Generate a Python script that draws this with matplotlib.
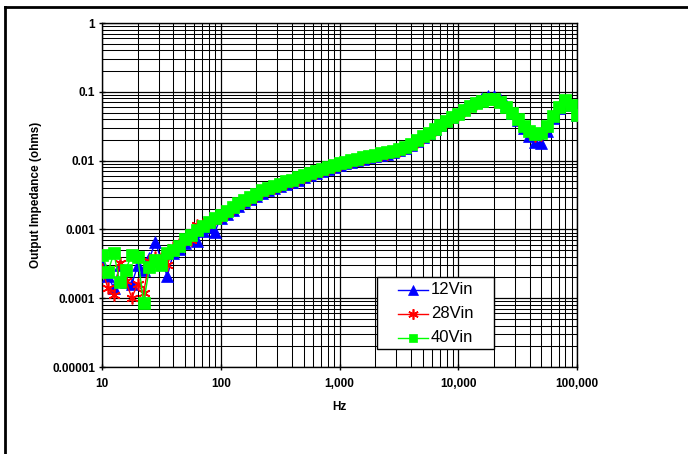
import matplotlib
matplotlib.use("Agg")
import matplotlib.pyplot as plt
from matplotlib.lines import Line2D
from matplotlib.patches import Rectangle
from matplotlib.ticker import LogLocator, FixedLocator, NullFormatter

plt.rcParams['font.family'] = ['Liberation Sans', 'DejaVu Sans']

# Frequency sweep (Hz)
freq = [10, 11.2, 12.6, 14.1, 15.8, 17.8, 20.0, 22.4, 25.1, 28.2, 31.6, 35.5, 39.8, 44.7, 50.1, 56.2, 63.1, 70.8, 79.4, 89.1,
        100, 112, 126, 141, 158, 178, 200, 224, 251, 282, 316, 355, 398, 447, 501, 562, 631, 708, 794, 891,
        1000, 1120, 1260, 1410, 1580, 1780, 2000, 2240, 2510, 2820, 3160, 3550, 3980, 4470, 5010, 5620, 6310, 7080, 7940, 8910,
        10000, 11200, 12600, 14100, 15800, 17800, 20000, 22400, 25100, 28200, 31600, 35500, 39800, 44700, 50100, 56200, 63100, 70800, 79400, 89100,
        100000]

z_12vin = [0.00032, 0.00021, 0.00014, 0.00030, 0.00017, 0.00016, 0.00030, 0.00026, 0.00038, 0.00066, 0.00035, 0.00021, 0.00045, 0.00052, 0.00063, 0.00075, 0.00068, 0.00095, 0.00110, 0.00092,
           0.00148, 0.0017, 0.00194, 0.0022, 0.0025, 0.00278, 0.0031, 0.0034, 0.00368, 0.0040, 0.0043, 0.0046, 0.0049, 0.0053, 0.0057, 0.0061, 0.0065, 0.0070, 0.0075, 0.0080,
           0.0086, 0.0091, 0.0096, 0.0101, 0.0106, 0.0111, 0.0116, 0.0121, 0.0126, 0.0132, 0.0141, 0.0153, 0.0170, 0.0192, 0.0220, 0.0252, 0.0288, 0.0330, 0.0377, 0.0430,
           0.0490, 0.0560, 0.0635, 0.0715, 0.0800, 0.0870, 0.0860, 0.0775, 0.0640, 0.0500, 0.0385, 0.0295, 0.0230, 0.0185, 0.0180, 0.0265, 0.0410, 0.0590, 0.0735, 0.0640,
           0.046]

z_28vin = [0.00027, 0.00014, 0.00011, 0.00032, 0.00018, 0.000102, 0.00016, 0.00012, 0.00035, 0.00040, 0.00038, 0.00030, 0.00055, 0.00062, 0.00070, 0.00070, 0.00115, 0.00120, 0.00125, 0.00140,
           0.00150, 0.00172, 0.00196, 0.00224, 0.00252, 0.0028, 0.0031, 0.00345, 0.0037, 0.0040, 0.0043, 0.00465, 0.0049, 0.0053, 0.0057, 0.0061, 0.0065, 0.0070, 0.0075, 0.0080,
           0.0086, 0.0091, 0.0096, 0.0101, 0.0106, 0.0111, 0.0116, 0.0121, 0.0126, 0.0132, 0.0140, 0.0151, 0.0167, 0.0187, 0.0213, 0.0243, 0.0277, 0.0316, 0.0360, 0.0410,
           0.0465, 0.0530, 0.0600, 0.0670, 0.0735, 0.0775, 0.0770, 0.0700, 0.0595, 0.0485, 0.0392, 0.0312, 0.0260, 0.0228, 0.0238, 0.0310, 0.0440, 0.0600, 0.0745, 0.0640,
           0.046]

z_40vin = [0.00043, 0.00024, 0.00045, 0.00017, 0.00026, 0.00042, 0.00040, 0.000085, 0.00028, 0.00036, 0.00030, 0.00045, 0.00050, 0.00058, 0.00072, 0.00083, 0.00097, 0.00112, 0.00128, 0.00145,
           0.0016, 0.00185, 0.0021, 0.0024, 0.0027, 0.0030, 0.0033, 0.0037, 0.0040, 0.0043, 0.0046, 0.0050, 0.0053, 0.0057, 0.0061, 0.0065, 0.0070, 0.0075, 0.0080, 0.0086,
           0.0092, 0.0097, 0.0102, 0.0107, 0.0112, 0.0117, 0.0122, 0.0127, 0.0132, 0.0139, 0.0148, 0.0160, 0.0177, 0.0198, 0.0225, 0.0255, 0.0290, 0.0330, 0.0375, 0.0425,
           0.0480, 0.0545, 0.0615, 0.0685, 0.0745, 0.0785, 0.0775, 0.0705, 0.0600, 0.0490, 0.0400, 0.0320, 0.0270, 0.0240, 0.0250, 0.0320, 0.0450, 0.0610, 0.0750, 0.0640,
           0.046]

series_labels = ['12Vin', '28Vin', '40Vin']
x_ticks = [10, 100, 1000, 10000, 100000]
x_tick_labels = ['10', '100', '1,000', '10,000', '100,000']
y_ticks = [0.00001, 0.0001, 0.001, 0.01, 0.1, 1]
y_tick_labels = ['0.00001', '0.0001', '0.001', '0.01', '0.1', '1']

W, H = 688, 454
fig = plt.figure(figsize=(W / 100, H / 100), dpi=100)
ax = fig.add_axes([102 / W, 1 - 367 / H, 475 / W, 344 / H])

ax.set_xscale('log')
ax.set_yscale('log')
ax.set_xlim(10, 100000)
ax.set_ylim(0.00001, 1)

styles = [
    dict(color='#0000FF', marker='^', mec='#0000FF', mfc='#0000FF', mew=0.5),
    dict(color='#FF0000', marker=(6, 2, 0), mec='#FF0000', mfc='#FF0000', mew=1.2),
    dict(color='#00FF00', marker='s', mec='#00FF00', mfc='#00FF00', mew=0.5),
]
plot_ms = [8.5, 8.5, 8]
legend_ms = [7.5, 7.5, 6]
for z, st, lab, zo, ms in zip([z_12vin, z_28vin, z_40vin], styles, series_labels, [3, 4, 5], plot_ms):
    ax.plot(freq, z, lw=1, label=lab, zorder=zo, ms=ms, **st)

ax.xaxis.set_major_locator(FixedLocator(x_ticks))
ax.set_xticklabels(x_tick_labels)
ax.yaxis.set_major_locator(FixedLocator(y_ticks))
ax.set_yticklabels(y_tick_labels)
ax.xaxis.set_minor_locator(LogLocator(base=10, subs=range(2, 10), numticks=20))
ax.yaxis.set_minor_locator(LogLocator(base=10, subs=range(2, 10), numticks=20))
ax.xaxis.set_minor_formatter(NullFormatter())
ax.yaxis.set_minor_formatter(NullFormatter())

ax.grid(True, which='major', color='black', lw=0.9)
ax.grid(True, which='minor', color='black', lw=0.75)
ax.set_axisbelow(True)

for lab in ax.get_xticklabels() + ax.get_yticklabels():
    lab.set_fontweight('bold')
    lab.set_fontsize(8.5)
ax.tick_params(axis='y', which='major', length=4, width=1, direction='inout', color='black', pad=3)
ax.tick_params(axis='x', which='major', length=4, width=1, direction='inout', color='black', pad=6)
ax.tick_params(axis='both', which='minor', length=0)
for s in ax.spines.values():
    s.set_color('black')
    s.set_linewidth(1)

ax.set_xlabel('Hz', fontsize=8.5, fontweight='bold', labelpad=8)
ax.set_ylabel('Output Impedance (ohms)', fontsize=8.5, fontweight='bold', labelpad=7)

# Legend box (drawn in figure pixel coordinates)
def fx(px):
    return px / W

def fy(py):
    return 1 - py / H

fig.add_artist(Rectangle((fx(377), fy(349)), fx(494) - fx(377), fy(277) - fy(349),
                         transform=fig.transFigure, facecolor='white', edgecolor='black', lw=1, zorder=20))
row_y = [290, 314, 338]
for st, lab, ry, ms in zip(styles, series_labels, row_y, legend_ms):
    fig.add_artist(Line2D([fx(398), fx(428)], [fy(ry), fy(ry)], transform=fig.transFigure,
                          color=st['color'], lw=1, zorder=21))
    fig.add_artist(Line2D([fx(413)], [fy(ry)], transform=fig.transFigure, lw=0, zorder=22,
                          marker=st['marker'], ms=ms, mec=st['mec'], mfc=st['mfc'], mew=st['mew']))
    fig.text(fx(431), fy(ry), lab, fontsize=12, va='center', ha='left', zorder=23)

# outer chart frame
fig.add_artist(Line2D([fx(5), fx(5)], [0, fy(7)], transform=fig.transFigure, color='black', lw=2))
fig.add_artist(Line2D([fx(5), 1], [fy(7), fy(7)], transform=fig.transFigure, color='black', lw=2))

fig.savefig('out.png', dpi=100)
